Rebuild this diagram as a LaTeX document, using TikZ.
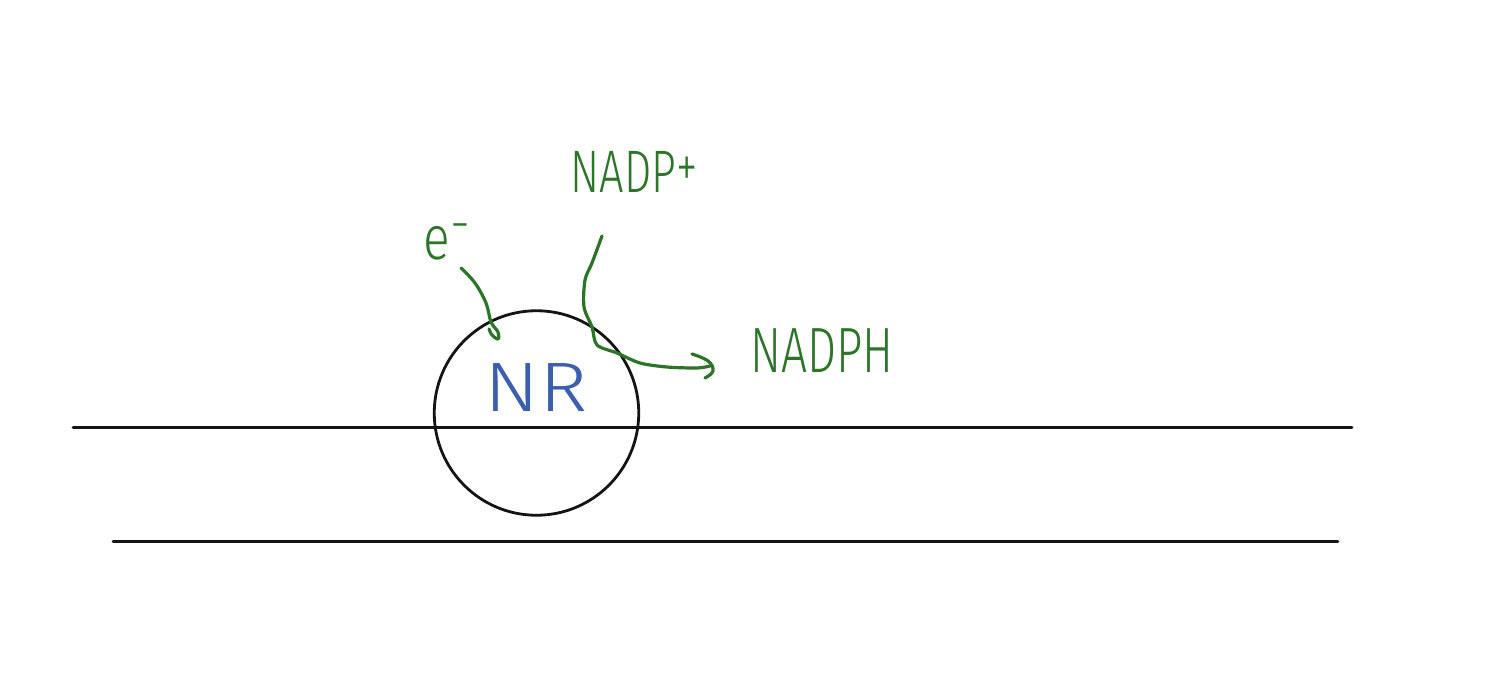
\documentclass[tikz,border=0pt]{standalone}
\usepackage{fontspec}
\setmainfont{Liberation Sans}
\newfontfamily\handfont[UprightFont=* Light]{Fira Sans}
\definecolor{inkgreen}{HTML}{2B7527}
\definecolor{inkblue}{HTML}{3A5FAE}
\tikzset{
  x=1pt,y=-1pt,
  rule/.style={line width=2.8pt,draw=black!92,line cap=round},
  ring/.style={circle,draw=black!92,line width=2.8pt,minimum size=204.5pt,inner sep=0pt},
  greenink/.style={line width=3.2pt,draw=inkgreen,line cap=round,line join=round},
  greenlabel/.style={text=inkgreen,inner sep=0pt},
  bluelabel/.style={text=inkblue,inner sep=0pt}
}
\begin{document}
\begin{tikzpicture}
\useasboundingbox (0,0) rectangle (1486,700);
\fill[white] (0,0) rectangle (1486,700);
% membrane lines
\coordinate (topL) at (73,427.5);
\coordinate (topR) at (1352,427.5);
\coordinate (botL) at (113,541.5);
\coordinate (botR) at (1338,541.5);
\draw[rule] (topL) -- (topR);
\draw[rule] (botL) -- (botR);
% enzyme
\node[ring] (ring) at (536.5,413) {};
\node[bluelabel,font=\handfont\fontsize{70}{70}\selectfont] (nr) at (536.5,388) {\scalebox{1.17}[1]{NR}};
% labels
\node[greenlabel,font=\handfont\fontsize{60}{60}\selectfont] (nadpplus) at (634,172) {\scalebox{0.72}[1]{NADP\raisebox{5pt}{+}}};
\node[greenlabel,font=\handfont\fontsize{64}{64}\selectfont] (nadph) at (822,351) {\scalebox{0.72}[1]{NADPH}};
\node[greenlabel,font=\handfont\fontsize{62}{62}\selectfont] (eminus) at (447,242) {\scalebox{0.8}[1]{e}\raisebox{19pt}{\scalebox{0.8}[0.8]{-}}};
% electron stroke
\coordinate (eStart) at (461,268);
\coordinate (eEnd) at (489,329);
\draw[greenink] plot[smooth,tension=0.6] coordinates {(eStart) (475,283) (486,303) (491,322) (498,332) (498,339) (492,335) (eEnd)};
% NADP+ to NADPH stroke
\coordinate (nStart) at (602,236);
\coordinate (nTip) at (710,366);
\coordinate (headA) at (692,354);
\coordinate (headB) at (705,378);
\draw[greenink] plot[smooth,tension=0.5] coordinates {(nStart) (592,263) (585,280) (584,307) (592,327) (597,345) (617,353) (640,363) (667,367) (697,368) (nTip)};
\draw[greenink] plot[smooth,tension=0.7] coordinates {(headA) (708,361) (713,371) (headB)};
\end{tikzpicture}
\end{document}
